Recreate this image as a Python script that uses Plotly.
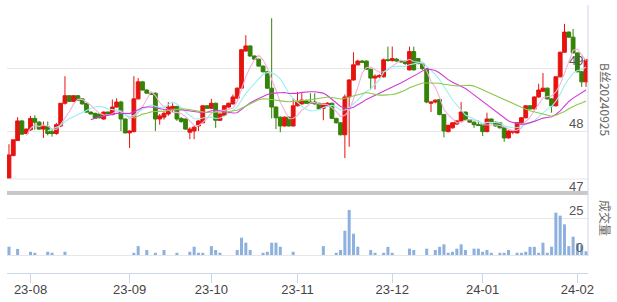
import plotly.graph_objects as go

# ---- data ----
opens = [47.25, 47.61, 47.85, 48.16, 47.96, 48.02, 48.20, 48.14, 48.03, 48.07,
         47.99, 47.96, 48.08, 48.44, 48.56, 48.47, 48.56, 48.51, 48.44, 48.30,
         48.28, 48.27, 48.19, 48.30, 48.26, 48.38, 48.46, 48.19, 47.97, 47.99,
         48.51, 48.78, 48.65, 48.60, 48.60, 48.19, 48.22, 48.27, 48.36, 48.39,
         48.20, 48.19, 47.98, 48.00, 48.08, 48.13, 48.40, 48.36, 48.44, 48.17,
         48.25, 48.38, 48.43, 48.52, 48.68, 49.27, 49.35, 49.19, 49.14, 49.03,
         48.94, 48.68, 48.38, 48.22, 48.08, 48.22, 48.08, 48.40, 48.43, 48.48,
         48.46, 48.46, 48.44, 48.36, 48.40, 48.44, 48.20, 48.13, 47.94, 48.54,
         48.81, 49.05, 49.11, 49.11, 48.98, 48.84, 48.86, 48.86, 49.13, 49.12,
         49.14, 49.11, 49.10, 48.97, 49.26, 49.15, 49.07, 48.99, 48.44, 48.46,
         48.50, 48.26, 47.99, 48.05, 48.11, 48.16, 48.30, 48.18, 48.14, 48.10,
         48.10, 47.99, 48.19, 48.14, 48.13, 48.05, 47.89, 47.98, 47.97, 48.13,
         48.21, 48.40, 48.35, 48.54, 48.63, 48.68, 48.51, 48.40, 48.86, 49.25,
         49.57, 49.49, 49.24, 48.94, 48.78]
highs = [47.79, 47.86, 48.22, 48.17, 48.04, 48.24, 48.25, 48.16, 48.15, 48.15,
         48.03, 48.13, 48.44, 48.87, 48.57, 48.57, 48.57, 48.52, 48.45, 48.31,
         48.29, 48.28, 48.31, 48.31, 48.50, 48.52, 48.48, 48.20, 48.01, 48.87,
         48.84, 48.79, 48.66, 48.62, 48.61, 48.27, 48.32, 48.46, 48.44, 48.40,
         48.22, 48.20, 48.06, 48.08, 48.17, 48.41, 48.41, 48.51, 48.45, 48.28,
         48.41, 48.45, 48.58, 48.69, 49.30, 49.52, 49.36, 49.20, 49.15, 49.04,
         48.95, 49.79, 48.39, 48.23, 48.23, 48.23, 48.52, 48.62, 48.60, 48.50,
         48.60, 48.60, 48.45, 48.44, 48.46, 48.45, 48.21, 48.14, 48.58, 48.82,
         49.25, 49.13, 49.13, 49.12, 48.99, 48.90, 48.90, 49.15, 49.34, 49.34,
         49.16, 49.13, 49.12, 49.34, 49.34, 49.16, 49.08, 49.00, 48.47, 48.50,
         48.51, 48.27, 48.10, 48.14, 48.17, 48.46, 48.31, 48.19, 48.15, 48.17,
         48.11, 48.29, 48.20, 48.15, 48.14, 48.06, 48.01, 48.01, 48.14, 48.22,
         48.41, 48.41, 48.55, 48.75, 48.92, 48.69, 48.52, 48.87, 49.26, 49.70,
         49.58, 49.62, 49.25, 48.95, 49.14]
lows = [47.25, 47.60, 47.84, 47.95, 47.95, 48.00, 48.02, 48.02, 47.89, 47.93,
        47.91, 47.94, 48.06, 48.42, 48.47, 48.46, 48.48, 48.42, 48.29, 48.26,
        48.19, 48.20, 48.18, 48.26, 48.25, 48.37, 48.00, 47.96, 47.73, 47.98,
        48.50, 48.64, 48.59, 48.57, 48.00, 48.10, 48.18, 48.24, 48.30, 48.16,
        48.13, 48.02, 47.87, 47.87, 48.00, 48.12, 48.35, 48.35, 48.05, 48.16,
        48.24, 48.37, 48.42, 48.51, 48.67, 49.26, 49.18, 49.13, 49.02, 48.93,
        48.67, 48.20, 48.03, 47.98, 48.07, 48.07, 48.07, 48.39, 48.42, 48.43,
        48.43, 48.42, 48.34, 48.17, 48.38, 48.19, 48.12, 47.93, 47.57, 47.75,
        48.80, 49.04, 49.08, 48.97, 48.66, 48.66, 48.84, 48.85, 49.10, 49.10,
        49.10, 49.08, 49.05, 48.96, 48.96, 49.06, 48.97, 48.44, 48.30, 48.44,
        48.25, 47.90, 47.98, 48.04, 48.10, 48.15, 48.17, 48.13, 48.05, 48.08,
        47.92, 47.98, 48.12, 48.07, 48.04, 47.83, 47.88, 47.95, 47.96, 48.12,
        48.20, 48.34, 48.34, 48.53, 48.62, 48.50, 48.29, 48.39, 48.85, 49.24,
        49.48, 49.23, 48.93, 48.70, 48.70]
closes = [47.62, 47.86, 48.16, 47.95, 48.03, 48.20, 48.14, 48.03, 48.07, 47.96,
          47.96, 48.10, 48.44, 48.56, 48.47, 48.56, 48.49, 48.43, 48.30, 48.27,
          48.20, 48.21, 48.30, 48.27, 48.38, 48.46, 48.19, 47.97, 48.00, 48.51,
          48.78, 48.65, 48.60, 48.58, 48.19, 48.24, 48.28, 48.38, 48.39, 48.19,
          48.15, 48.03, 48.03, 48.06, 48.16, 48.40, 48.36, 48.44, 48.17, 48.27,
          48.40, 48.44, 48.54, 48.68, 49.29, 49.35, 49.19, 49.14, 49.03, 48.94,
          48.68, 48.38, 48.21, 48.08, 48.22, 48.08, 48.40, 48.46, 48.49, 48.44,
          48.44, 48.43, 48.35, 48.43, 48.44, 48.20, 48.13, 47.94, 48.54, 48.81,
          49.05, 49.11, 49.09, 48.98, 48.84, 48.87, 48.88, 49.13, 49.12, 49.15,
          49.11, 49.10, 49.07, 49.26, 48.97, 49.07, 48.99, 48.46, 48.46, 48.49,
          48.26, 48.00, 48.09, 48.13, 48.16, 48.30, 48.18, 48.14, 48.10, 48.09,
          47.99, 48.19, 48.13, 48.08, 48.05, 47.89, 48.00, 48.00, 48.13, 48.21,
          48.40, 48.35, 48.54, 48.65, 48.68, 48.51, 48.40, 48.86, 49.25, 49.57,
          49.49, 49.24, 48.94, 48.78, 49.13]
volumes = [5.6, 0, 4.1, 0, 0, 2.2, 1.5, 0, 0, 2.2,
           1.5, 0, 0, 2.2, 0, 0, 0, 0, 0, 0,
           0, 0, 0, 0, 0, 0, 0, 0, 0, 1.5,
           6.0, 0, 3.4, 0, 1.5, 0, 3.4, 0, 0, 1.5,
           0, 0, 2.2, 5.6, 1.5, 1.5, 0, 6.0, 3.4, 1.5,
           0, 0, 0, 3.4, 11.7, 8.3, 3.4, 0, 0, 1.5,
           2.2, 8.3, 8.3, 5.6, 0, 0, 2.2, 0, 0, 0,
           0, 0, 0, 6.0, 0, 0, 1.5, 3.4, 16.4, 30.4,
           14.4, 5.6, 0, 0, 3.4, 1.5, 0, 1.5, 5.5, 1.5,
           0, 0, 0, 4.3, 3.4, 0, 0, 4.3, 0, 3.4,
           5.5, 7.2, 1.5, 2.2, 4.3, 7.2, 3.4, 0, 4.3, 4.3,
           2.2, 3.4, 1.5, 0, 1.5, 1.5, 3.4, 0, 1.5, 1.5,
           2.2, 5.5, 5.5, 1.5, 8.3, 1.5, 5.6, 28.6, 26.6, 20.7,
           6.0, 12.4, 7.9, 6.5, 2.5]
tick_idx = [5, 28, 47, 67, 89, 110, 132]
tick_labels = ["23-08", "23-09", "23-10", "23-11", "23-12", "24-01", "24-02"]
price_ticks = [47, 48, 49, 50]
price_labels = ["47", "48", "49"]
vol_ticks = [0, 25]
ma_periods = [5, 10, 20, 30]
ma_colors = ["#f4b0dc", "#9aeef2", "#d23ad6", "#8cc84b"]
contract_name = "B丝20240925"
volume_title = "成交量"

RED = "#e5140f"
GREEN = "#35820a"
GRID = "#e6e6e6"
AXIS = "#ccd6eb"

H = 302.0
def py(pix):
    return (H - pix) / H

x = list(range(len(closes)))


def moving_avg(vals, n):
    out = []
    for i in range(len(vals)):
        out.append(None if i < n - 1 else sum(vals[i - n + 1:i + 1]) / n)
    return out


fig = go.Figure()
fig.add_trace(go.Candlestick(
    x=x, open=opens, high=highs, low=lows, close=closes,
    increasing=dict(line=dict(color=RED, width=1), fillcolor=RED),
    decreasing=dict(line=dict(color=GREEN, width=1), fillcolor=GREEN),
    whiskerwidth=0, xaxis="x", yaxis="y", showlegend=False, hoverinfo="skip"))
for n, c in zip(ma_periods, ma_colors):
    fig.add_trace(go.Scatter(x=x, y=moving_avg(closes, n), mode="lines",
                             line=dict(color=c, width=1.1), xaxis="x", yaxis="y",
                             showlegend=False, hoverinfo="skip"))
fig.add_trace(go.Bar(x=x, y=volumes, width=0.7, marker=dict(color="#8cb1df", line=dict(width=0)),
                     xaxis="x", yaxis="y2", showlegend=False, hoverinfo="skip"))

n = len(closes)
fig.update_layout(
    width=617, height=302,
    margin=dict(l=7, r=29, t=0, b=0),
    paper_bgcolor="white", plot_bgcolor="white",
    boxgap=0.12, boxgroupgap=0,
    font=dict(family="Liberation Sans, Noto Sans CJK SC", size=12, color="#444"),
    xaxis=dict(domain=[0, 1], anchor="y2", range=[-0.46, n - 1 + 0.46],
               rangeslider=dict(visible=False), showgrid=False, zeroline=False,
               showline=True, linecolor=AXIS, linewidth=1,
               ticks="outside", ticklen=9, tickcolor=AXIS, tickwidth=1,
               ticklabelstandoff=-5,
               tickmode="array", tickvals=tick_idx, ticktext=tick_labels,
               tickfont=dict(size=13, color="#444")),
    yaxis=dict(domain=[py(194), py(5)], range=[47, 50], showticklabels=False,
               tickmode="array", tickvals=price_ticks, showgrid=True, gridcolor=GRID,
               gridwidth=1, zeroline=False, ticks=""),
    yaxis2=dict(domain=[py(273), py(200)], range=[-12.16, 37.16], showticklabels=False,
                tickmode="array", tickvals=vol_ticks, showgrid=True, gridcolor=GRID,
                zeroline=False, ticks=""),
)

shapes = [
    dict(type="line", xref="paper", yref="y", x0=0, x1=1, y0=50 - 174 / 63.0, y1=50 - 174 / 63.0,
         line=dict(color=GRID, width=1)),
    dict(type="rect", xref="paper", yref="paper", x0=0, x1=1, y0=py(195), y1=py(191),
         fillcolor="#c8c8c8", line=dict(width=0), layer="above"),
    dict(type="line", xref="paper", yref="paper", x0=1, x1=1, y0=py(256), y1=py(5),
         line=dict(color=AXIS, width=1)),
]
fig.update_layout(shapes=shapes)

ann = []
for lab in price_labels:
    ann.append(dict(text=lab, xref="paper", yref="y", x=0.995, y=float(lab),
                    xanchor="right", yanchor="bottom", showarrow=False, yshift=-2,
                    font=dict(size=13, color="#555")))
for v in vol_ticks:
    ann.append(dict(text=str(v), xref="paper", yref="y2", x=0.995, y=v,
                    xanchor="right", yanchor="bottom", showarrow=False, yshift=-2,
                    font=dict(size=13, color="#555")))
ann.append(dict(text=contract_name, xref="paper", yref="paper", x=(606 - 7) / 581.0, y=py(100),
                textangle=90, showarrow=False, xanchor="center", yanchor="middle",
                font=dict(family="Noto Sans CJK SC", size=12, color="#666")))
ann.append(dict(text=volume_title, xref="paper", yref="paper", x=(606 - 7) / 581.0, y=py(218),
                textangle=90, showarrow=False, xanchor="center", yanchor="middle",
                font=dict(family="Noto Sans CJK SC", size=12, color="#666")))
fig.update_layout(annotations=ann)

fig.write_html("out.html", config=dict(displayModeBar=False))
